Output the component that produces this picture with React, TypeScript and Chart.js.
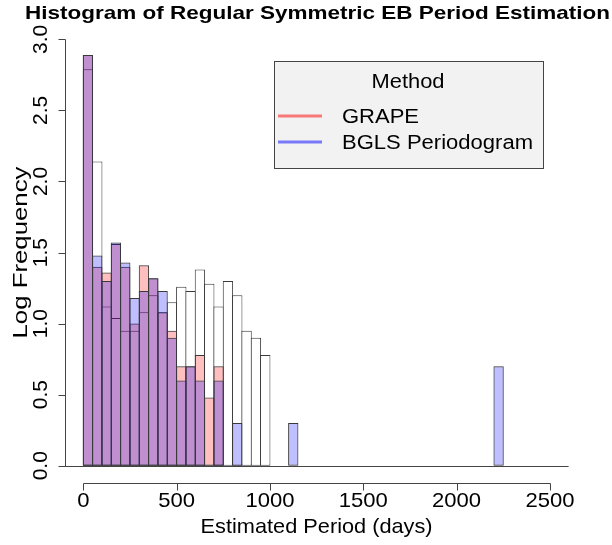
import React, { useEffect, useRef } from "react";
import { Chart, registerables } from "chart.js";

Chart.register(...registerables);

// Lower edge of each 50-day bin (days)
const binStarts = [
  0, 50, 100, 150, 200, 250, 300, 350, 400, 450, 500, 550, 600, 650, 700, 750,
  800, 850, 900, 950, 1000, 1050, 1100, 1150, 1200, 1250, 1300, 1350, 1400,
  1450, 1500, 1550, 1600, 1650, 1700, 1750, 1800, 1850, 1900, 1950, 2000, 2050,
  2100, 2150, 2200,
];
const binWidth = 50;

// log10 frequency of the reference (outline) histogram
const outlineLog = [
  2.79, 2.14, 1.12, 1.04, 0.95, 0.95, 1.08, 1.2, 1.08, 1.15, 1.26, 1.23, 1.38,
  1.28, 1.12, 1.3, 1.2, 0.95, 0.9, 0.78, null, null, null, null, null, null,
  null, null, null, null, null, null, null, null, null, null, null, null, null,
  null, null, null, null, null, null,
];
// log10 frequency, GRAPE
const grapeLog = [
  2.89, 1.4, 1.36, 1.56, 1.4, 1.0, 1.41, 1.32, 1.08, 0.95, 0.7, 0.7, 0.78, 0.48,
  0.7, null, null, null, null, null, null, null, null, null, null, null, null,
  null, null, null, null, null, null, null, null, null, null, null, null, null,
  null, null, null, null, null,
];
// log10 frequency, BGLS Periodogram
const bglsLog = [
  2.89, 1.48, 1.3, 1.57, 1.43, 1.18, 1.23, 1.32, 1.23, 0.9, 0.6, 0.7, 0.6, null,
  0.6, null, 0.3, null, null, null, null, null, 0.3, null, null, null, null,
  null, null, null, null, null, null, null, null, null, null, null, null, null,
  null, null, null, null, 0.7,
];

const xTicks = [0, 500, 1000, 1500, 2000, 2500];
const yTicks = [0, 0.5, 1.0, 1.5, 2.0, 2.5, 3.0];

const titleText = "Histogram of Regular Symmetric EB Period Estimation";
const xTitle = "Estimated Period (days)";
const yTitle = "Log Frequency";
const legendTitle = "Method";
const legendLabels = ["GRAPE", "BGLS Periodogram"];
const legendColors = ["rgba(255,0,0,0.5)", "rgba(0,0,255,0.5)"];

const FONT = "'Liberation Sans', Arial, sans-serif";

function toPoints(vals: (number | null)[]) {
  const pts: { x: number; y: number }[] = [];
  vals.forEach((v, i) => {
    if (v !== null && v > 0) pts.push({ x: binStarts[i] + binWidth / 2, y: v });
  });
  return pts;
}

// draw text horizontally stretched to a target width
function fitText(ctx: any, text: string, x: number, y: number, width: number, align: "left" | "center") {
  const w = ctx.measureText(text).width;
  const s = width / w;
  ctx.save();
  ctx.translate(x, y);
  ctx.scale(s, 1);
  ctx.textAlign = align;
  ctx.fillText(text, 0, 0);
  ctx.restore();
}

const rPlugin = {
  id: "rstyle",
  afterDatasetsDraw(chart: any) {
    const { ctx, chartArea, scales } = chart;
    const y0 = Math.round(scales.y.getPixelForValue(0)) + 0.5;
    ctx.save();
    ctx.strokeStyle = "#444";
    ctx.lineWidth = 1;
    ctx.beginPath();
    ctx.moveTo(chartArea.left, y0);
    ctx.lineTo(chartArea.right, y0);
    ctx.stroke();
    ctx.restore();
  },
  afterDraw(chart: any) {
    const { ctx, chartArea, scales } = chart;
    const xs = scales.x;
    const ys = scales.y;
    ctx.save();
    ctx.strokeStyle = "#444";
    ctx.lineWidth = 1;
    ctx.fillStyle = "#000";

    // x axis
    const axY = Math.round(chartArea.bottom) + 0.5;
    const xa = Math.round(xs.getPixelForValue(xTicks[0])) + 0.5;
    const xb = Math.round(xs.getPixelForValue(xTicks[xTicks.length - 1])) + 0.5;
    ctx.beginPath();
    ctx.moveTo(xa, axY);
    ctx.lineTo(xb, axY);
    xTicks.forEach((t) => {
      const px = Math.round(xs.getPixelForValue(t)) + 0.5;
      ctx.moveTo(px, axY);
      ctx.lineTo(px, axY + 7);
    });
    ctx.stroke();
    ctx.font = `21px ${FONT}`;
    ctx.textAlign = "center";
    ctx.textBaseline = "middle";
    xTicks.forEach((t) => {
      const s = String(t);
      fitText(ctx, s, xs.getPixelForValue(t), 501, ctx.measureText(s).width * 1.05, "center");
    });

    // y axis
    const axX = Math.round(chartArea.left) + 0.5;
    const ya = Math.round(ys.getPixelForValue(yTicks[0])) + 0.5;
    const yb = Math.round(ys.getPixelForValue(yTicks[yTicks.length - 1])) + 0.5;
    ctx.beginPath();
    ctx.moveTo(axX, ya);
    ctx.lineTo(axX, yb);
    yTicks.forEach((t) => {
      const py = Math.round(ys.getPixelForValue(t)) + 0.5;
      ctx.moveTo(axX, py);
      ctx.lineTo(axX - 7, py);
    });
    ctx.stroke();
    yTicks.forEach((t) => {
      ctx.save();
      ctx.translate(41, ys.getPixelForValue(t));
      ctx.rotate(-Math.PI / 2);
      ctx.fillText(t.toFixed(1), 0, 0);
      ctx.restore();
    });

    // axis titles
    const cx = (chartArea.left + chartArea.right) / 2;
    const cy = (chartArea.top + chartArea.bottom) / 2;
    fitText(ctx, xTitle, cx, 527, 232, "center");
    ctx.save();
    ctx.translate(21, cy);
    ctx.rotate(-Math.PI / 2);
    fitText(ctx, yTitle, 0, 0, 172, "center");
    ctx.restore();

    // main title
    ctx.font = `bold 19px ${FONT}`;
    fitText(ctx, titleText, 317.5, 14, 585, "center");

    // legend
    const lx = 274.5, ly = 61.5, lw = 269, lh = 107;
    ctx.fillStyle = "#f2f2f2";
    ctx.fillRect(lx, ly, lw, lh);
    ctx.strokeStyle = "#444";
    ctx.strokeRect(lx, ly, lw, lh);
    ctx.fillStyle = "#000";
    ctx.font = `20px ${FONT}`;
    fitText(ctx, legendTitle, 408, 82, 73, "center");
    const rowY = [116, 142];
    const rowW = [77, 191];
    legendLabels.forEach((lab, i) => {
      ctx.strokeStyle = legendColors[i];
      ctx.lineWidth = 3;
      ctx.beginPath();
      ctx.moveTo(278, rowY[i]);
      ctx.lineTo(322, rowY[i]);
      ctx.stroke();
      ctx.fillStyle = "#000";
      fitText(ctx, lab, 342, rowY[i] + 1, rowW[i], "left");
    });
    ctx.restore();
  },
};

export default function App() {
  const ref = useRef<HTMLCanvasElement | null>(null);
  useEffect(() => {
    if (!ref.current) return;
    // bars slightly wider than a bin so neighbouring outlines coincide (R-style shared edges)
    const pxPerBin = (568.6 - 64.6) / 2700 * binWidth;
    const common = {
      borderColor: "#3a3a3a",
      borderWidth: 1,
      borderSkipped: false,
      barPercentage: (pxPerBin + 1) / pxPerBin,
      categoryPercentage: 1,
      grouped: false,
    };
    const chart = new Chart(ref.current, {
      type: "bar",
      data: {
        datasets: [
          { label: "Reference", data: toPoints(outlineLog), backgroundColor: "#ffffff", order: 3, ...common },
          { label: legendLabels[0], data: toPoints(grapeLog), backgroundColor: "rgba(255,0,0,0.25)", order: 2, ...common },
          { label: legendLabels[1], data: toPoints(bglsLog), backgroundColor: "rgba(0,0,255,0.25)", order: 1, ...common },
        ],
      } as any,
      options: {
        animation: false,
        responsive: false,
        devicePixelRatio: 1,
        layout: { padding: { left: 64.6, right: 43.4, top: 22.3, bottom: 62.2 } },
        plugins: { legend: { display: false }, tooltip: { enabled: false }, title: { display: false } },
        scales: {
          x: { type: "linear", min: -100, max: 2600, offset: false, display: false },
          y: { type: "linear", min: -0.12, max: 3.12, display: false },
        },
      } as any,
      plugins: [rPlugin],
    });
    return () => chart.destroy();
  }, []);
  return (
    <div style={{ position: "fixed", left: 0, top: 0, width: 612, height: 545, background: "#fff" }}>
      <canvas ref={ref} width={612} height={545} style={{ display: "block", width: 612, height: 545 }} />
    </div>
  );
}
